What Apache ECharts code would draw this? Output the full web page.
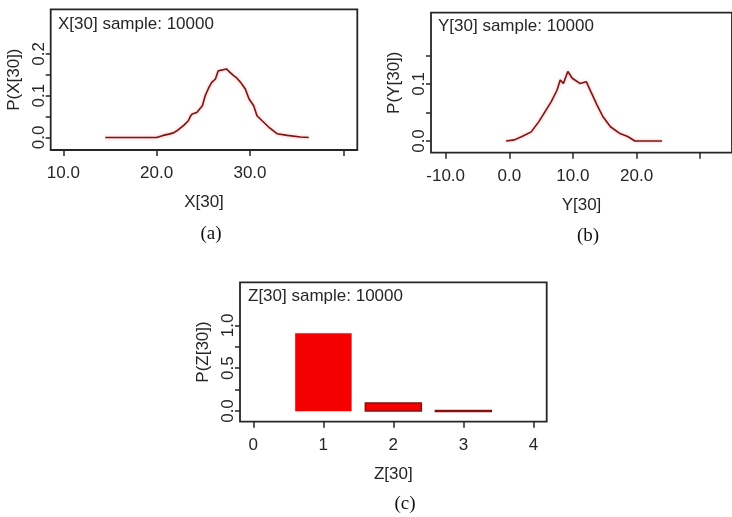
<!DOCTYPE html>
<html>
<head>
<meta charset="utf-8">
<script src="https://cdn.jsdelivr.net/npm/echarts@6/dist/echarts.min.js"></script>
<style>
  html, body { margin: 0; padding: 0; background: #fff; }
  #chart { width: 732px; height: 517px; }
</style>
</head>
<body>
<div id="chart"></div>
<script>
// (a) X[30] density
const xVals = [14.5, 20.0, 20.7, 21.3, 21.8, 22.3, 22.9, 23.4, 23.6, 23.8, 24.3, 24.9, 25.2, 25.6, 25.9, 26.3, 26.6, 26.8, 27.1, 27.5, 27.8, 28.25, 28.6, 29.0, 29.5, 29.9, 30.4, 30.75, 31.3, 32.0, 32.9, 34.0, 35.4, 36.3];
const xProb = [0, 0, 0.005, 0.008, 0.011, 0.018, 0.029, 0.040, 0.050, 0.056, 0.060, 0.076, 0.100, 0.120, 0.132, 0.140, 0.160, 0.164, 0.162, 0.164, 0.157, 0.148, 0.142, 0.132, 0.116, 0.092, 0.076, 0.052, 0.040, 0.025, 0.009, 0.005, 0.001, 0];

// (b) Y[30] density
const yVals = [-0.5, 0.8, 2.0, 3.45, 4.65, 5.6, 6.6, 7.5, 8.0, 8.5, 9.2, 9.45, 9.9, 10.2, 11.1, 12.1, 12.8, 13.8, 14.7, 15.9, 17.4, 18.6, 19.75, 24.0];
const yProb = [0, 0.002, 0.008, 0.016, 0.034, 0.051, 0.069, 0.089, 0.107, 0.101, 0.122, 0.120, 0.110, 0.113, 0.101, 0.104, 0.087, 0.063, 0.043, 0.025, 0.013, 0.008, 0, 0];

// (c) Z[30] probabilities
const zVals = [1, 2, 3];
const zProb = [0.907, 0.093, 0.005];

// tick marks and labels
const aXTicks = [10, 20, 30, 40];
const aXLabels = [10, 20, 30];
const aYTicks = [0, 0.05, 0.1, 0.15, 0.2];
const aYLabels = [0, 0.1, 0.2];
const bXTicks = [-10, 0, 10, 20, 30];
const bXLabels = [-10, 0, 10, 20];
const bYTicks = [0, 0.05, 0.1, 0.15];
const bYLabels = [0, 0.1];
const cXTicks = [0, 1, 2, 3, 4];
const cXLabels = [0, 1, 2, 3, 4];
const cYTicks = [0, 0.25, 0.5, 0.75, 1];
const cYLabels = [0, 0.5, 1];

const titles = ['X[30] sample: 10000', 'Y[30] sample: 10000', 'Z[30] sample: 10000'];
const xNames = ['X[30]', 'Y[30]', 'Z[30]'];
const yNames = ['P(X[30])', 'P(Y[30])', 'P(Z[30])'];
const captions = ['(a)', '(b)', '(c)'];

const font = '"Liberation Sans", Arial, sans-serif';
const ink = '#262626';
const lineRed = '#7d1515';

let dom = document.getElementById('chart');
let myChart = echarts.init(dom, null, { renderer: 'canvas' });

let xAxisOf = (idx, min, max, ticks, labels, fmt) => ({
  type: 'value', gridIndex: idx, min: min, max: max, position: 'bottom',
  name: xNames[idx], nameLocation: 'middle', nameGap: 44,
  nameTextStyle: { fontFamily: font, fontSize: 17, color: ink },
  axisLine: { show: false, onZero: false },
  splitLine: { show: false },
  axisTick: { show: true, inside: false, length: 6, customValues: ticks, lineStyle: { color: ink, width: 1.5 } },
  axisLabel: { margin: 15, customValues: labels, formatter: fmt, fontFamily: font, fontSize: 17, color: ink }
});

let yAxisOf = (idx, min, max, ticks, labels) => ({
  type: 'value', gridIndex: idx, min: min, max: max, position: 'left',
  name: yNames[idx], nameLocation: 'middle', nameRotate: 90, nameGap: 28,
  nameTextStyle: { fontFamily: font, fontSize: 17, color: ink },
  axisLine: { show: false, onZero: false },
  splitLine: { show: false },
  axisTick: { show: true, inside: false, length: 5, customValues: ticks, lineStyle: { color: ink, width: 1.5 } },
  axisLabel: { margin: 3, rotate: 90, customValues: labels, formatter: v => v.toFixed(1), fontFamily: font, fontSize: 17, color: ink }
});

const gridBox = { show: true, borderColor: ink, borderWidth: 1.8, backgroundColor: 'transparent', containLabel: false };

let option = {
  backgroundColor: '#fff',
  animation: false,
  title: [
    { text: titles[0], left: 58, top: 16 },
    { text: titles[1], left: 438, top: 18 },
    { text: titles[2], left: 248, top: 288 }
  ].map(t => Object.assign(t, { padding: 0, textStyle: { fontFamily: font, fontSize: 17, fontWeight: 'normal', color: ink } })),
  grid: [
    Object.assign({ left: 50.7, top: 9.3, width: 306.6, height: 140.7 }, gridBox),
    Object.assign({ left: 431, top: 12.7, width: 330, height: 140 }, gridBox),
    Object.assign({ left: 240, top: 282.3, width: 306.7, height: 139.4 }, gridBox)
  ],
  xAxis: [
    xAxisOf(0, 8.65, 41.5, aXTicks, aXLabels, v => v.toFixed(1)),
    xAxisOf(1, -12.3, 35.0, bXTicks, bXLabels, v => v.toFixed(1)),
    xAxisOf(2, -0.19, 4.19, cXTicks, cXLabels, v => String(v))
  ],
  yAxis: [
    yAxisOf(0, -0.030, 0.307, aYTicks, aYLabels),
    yAxisOf(1, -0.0205, 0.225, bYTicks, bYLabels),
    yAxisOf(2, -0.125, 1.504, cYTicks, cYLabels)
  ],
  graphic: captions.map((c, i) => ({
    type: 'text',
    x: [211, 588, 405][i],
    y: [234, 236, 504][i],
    style: { text: c, font: '19px "Liberation Serif", "Times New Roman", serif', fill: '#111', textAlign: 'center', textVerticalAlign: 'middle' }
  })),
  series: [
    {
      type: 'line', xAxisIndex: 0, yAxisIndex: 0, showSymbol: false,
      data: xVals.map((x, i) => [x, xProb[i]]),
      lineStyle: { color: lineRed, width: 1.6, shadowColor: 'rgba(255,90,90,0.55)', shadowBlur: 3 }
    },
    {
      type: 'line', xAxisIndex: 1, yAxisIndex: 1, showSymbol: false,
      data: yVals.map((x, i) => [x, yProb[i]]),
      lineStyle: { color: lineRed, width: 1.6, shadowColor: 'rgba(255,90,90,0.55)', shadowBlur: 3 }
    },
    {
      type: 'custom', xAxisIndex: 2, yAxisIndex: 2,
      data: zVals.map((z, i) => [z, zProb[i]]),
      renderItem: (params, api) => {
        let z = api.value(0), p = api.value(1);
        let p0 = api.coord([z - 0.4, p]);
        let p1 = api.coord([z + 0.4, 0]);
        let h = p1[1] - p0[1];
        return {
          type: 'rect',
          shape: { x: p0[0], y: p0[1], width: p1[0] - p0[0], height: Math.max(h, 1) },
          style: { fill: '#f50000', stroke: h < 20 ? '#8a0f0f' : '#f50000', lineWidth: h < 20 ? 1.5 : 0.5 }
        };
      }
    }
  ]
};

if (option && typeof option === 'object') {
  myChart.setOption(option);
}

window.addEventListener('resize', myChart.resize);
</script>
</body>
</html>
